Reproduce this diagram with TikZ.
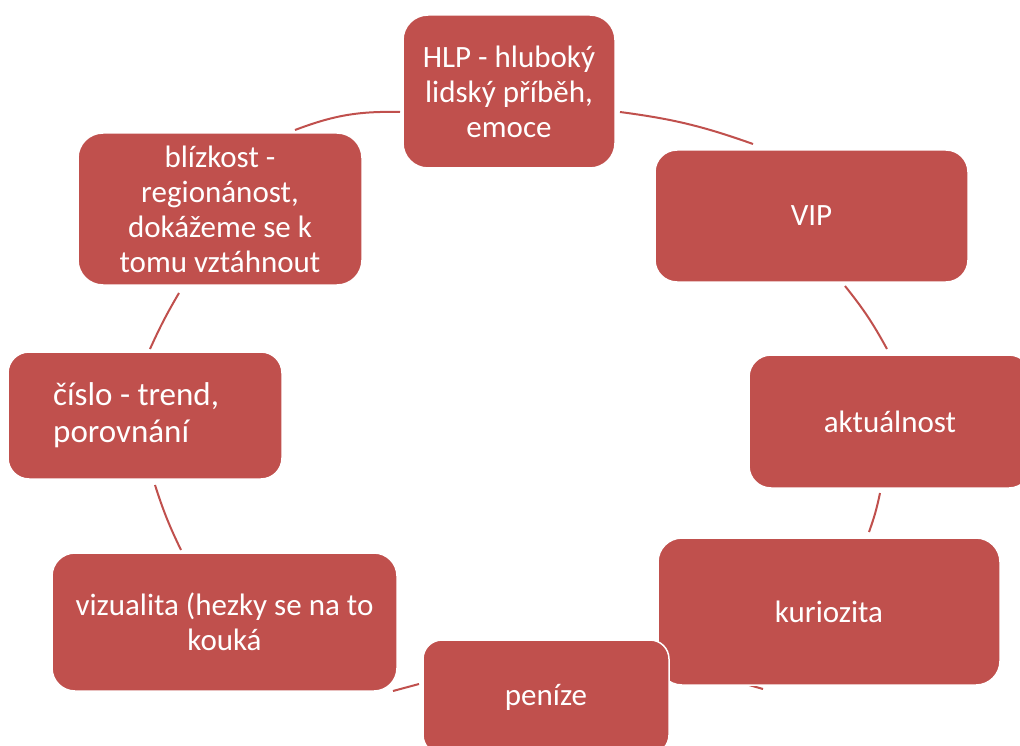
\documentclass[tikz,border=0pt]{standalone}
\usepackage{fontspec}
\setmainfont{Carlito}
\definecolor{boxred}{HTML}{C0504D}
\begin{document}
\begin{tikzpicture}[x=1pt,y=-1pt,
  item/.style={draw=white, line width=1.5pt, fill=boxred, text=white, align=center,
    font=\fontsize{31}{35}\selectfont, inner sep=0pt},
  lbl/.style={text=white, inner sep=0pt},
  cyc/.style={draw=boxred, line width=2pt}]
\useasboundingbox (0,0) rectangle (1020,746);
% arc end points
\coordinate (a1s) at (295,130); \coordinate (a1e) at (400,112);
\coordinate (a2s) at (620,112); \coordinate (a2e) at (753,144);
\coordinate (a3s) at (845,286); \coordinate (a3e) at (887,349);
\coordinate (a4s) at (880,493); \coordinate (a4e) at (869,532);
\coordinate (a5s) at (749,685); \coordinate (a5e) at (763,689);
\coordinate (a6s) at (419,684); \coordinate (a6e) at (393,691);
\coordinate (a7s) at (181,550); \coordinate (a7e) at (155,485);
\coordinate (a8s) at (150,349); \coordinate (a8e) at (179,293);
\draw[cyc] (a1s) to[bend left=11] (a1e);
\draw[cyc] (a2s) to[bend left=6] (a2e);
\draw[cyc] (a3s) to[bend left=5] (a3e);
\draw[cyc] (a4s) to[bend left=4] (a4e);
\draw[cyc] (a5s) -- (a5e);
\draw[cyc] (a6s) -- (a6e);
\draw[cyc] (a7s) to[bend left=4] (a7e);
\draw[cyc] (a8s) to[bend left=3] (a8e);
% boxes
\node[item, minimum width=212pt, minimum height=153pt, rounded corners=25pt] (hlp) at (509,91.5) {HLP - hluboký\\lidský příběh,\\emoce};
\node[item, minimum width=313pt, minimum height=132pt, rounded corners=22pt] (vip) at (811.5,216) {VIP};
\node[item, minimum width=282pt, minimum height=133pt, rounded corners=22pt] (akt) at (890,421.5) {aktuálnost};
\node[item, minimum width=342pt, minimum height=147pt, rounded corners=24pt] (kur) at (829,611.5) {kuriozita};
\node[item, minimum width=246pt, minimum height=114pt, rounded corners=19pt] (pen) at (546,697) {peníze};
\node[item, minimum width=345pt, minimum height=138pt, rounded corners=23pt] (viz) at (224.5,622) {vizualita (hezky se na to\\kouká};
\node[item, minimum width=274pt, minimum height=127pt, rounded corners=21pt] (cis) at (145,415.5) {};
\node[lbl, anchor=west, align=left, font=\fontsize{33}{37}\selectfont] (cist) at (53,415.5) {číslo - trend,\\porovnání};
\node[item, minimum width=284pt, minimum height=152pt, rounded corners=25pt] (bli) at (220,209) {blízkost -\\regionánost,\\dokážeme se k\\tomu vztáhnout};
\end{tikzpicture}
\end{document}
